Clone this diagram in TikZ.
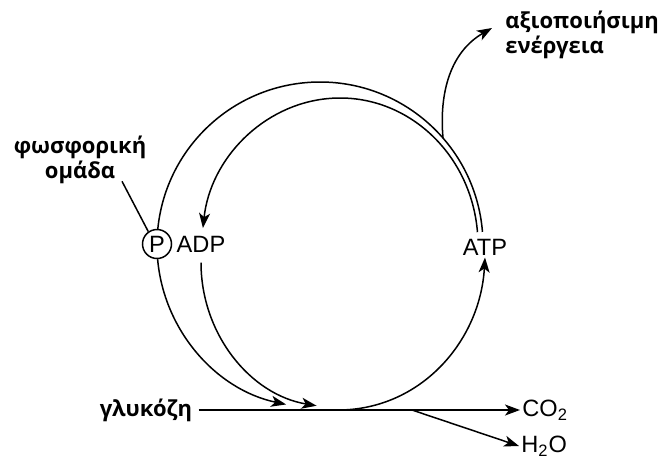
\documentclass[tikz,border=0pt]{standalone}
\usepackage{fontspec}
\setmainfont{Liberation Sans}
\newfontfamily\grfont{Open Sans}
\usetikzlibrary{arrows.meta, positioning, calc}
\tikzset{
  %% Cycle line
  cyc/.style={draw=black, line width=0.75pt},
  %% Arrow
  arr/.style={-{Stealth[length=7.5pt,width=5.5pt,inset=2pt]},
              draw=black, line width=0.75pt},
  %% Greek label
  glabel/.style={font=\grfont\bfseries\fontsize{11}{12.5}\selectfont,
                 inner sep=3pt},
  %% Chemical label
  chem/.style={font=\fontsize{11.8}{13}\selectfont, inner sep=1pt},
}

\begin{document}
\begin{tikzpicture}[x=0.5pt, y=0.5pt]
  \useasboundingbox (0,0) rectangle (662,457);

  %% Centres of the cycle
  \coordinate (c)  at (320,212);
  \coordinate (ci) at (340,212);

  %% Molecules
  \node[chem, circle, draw, line width=0.75pt, minimum size=14.5pt,
        inner sep=0pt] (p) at (157,213) {P};
  \node[chem] (adp) at (201,213) {ADP};
  \node[chem] (atp) at (485,210) {ATP};

  %% Labels
  \node[glabel, align=center] (phos) at (80,297) {φωσφορική\\ομάδα};
  \node[glabel, align=left, anchor=north west] (energy) at (499,452)
    {αξιοποιήσιμη\\ενέργεια};
  \node[glabel] (gl) at (146,47) {γλυκόζη};
  \node[chem, anchor=west] (co2) at (520,47) {CO\textsubscript{2}};
  \node[chem, anchor=west] (h2o) at (519,11) {H\textsubscript{2}O};

  %% Outer loop
  \draw[cyc] (c) ++(4.6:163) arc[start angle=4.6, end angle=174.4, radius=163];
  \draw[arr] (c) ++(185:163) arc[start angle=185, end angle=258, radius=163];

  %% Inner loop
  \draw[arr] (ci) ++(5:138 and 147)
    arc[start angle=5, end angle=173.4, x radius=138, y radius=147];
  \draw[arr] ($(adp.south)+(0,-8)$)
    arc[start angle=180, end angle=261, x radius=137, y radius=145];

  %% Glucose line and products
  \coordinate (bot)  at (338,47);
  \coordinate (fork) at (412,47);
  \draw[arr] (gl.east) -- (co2.west);
  \draw[arr] (fork) -- (h2o.west);
  \draw[arr] (bot) .. controls (420,47) and (480,115) .. (atp.south);

  %% Energy branch
  \coordinate (split) at ($(c)+(41:163)$);
  \draw[arr] (split) to[out=95, in=210] ($(energy.north west)+(-7,-23)$);

  %% Phosphate pointer
  \draw[cyc] ($(phos.south)+(42,9)$) -- (p.125);

\end{tikzpicture}
\end{document}
